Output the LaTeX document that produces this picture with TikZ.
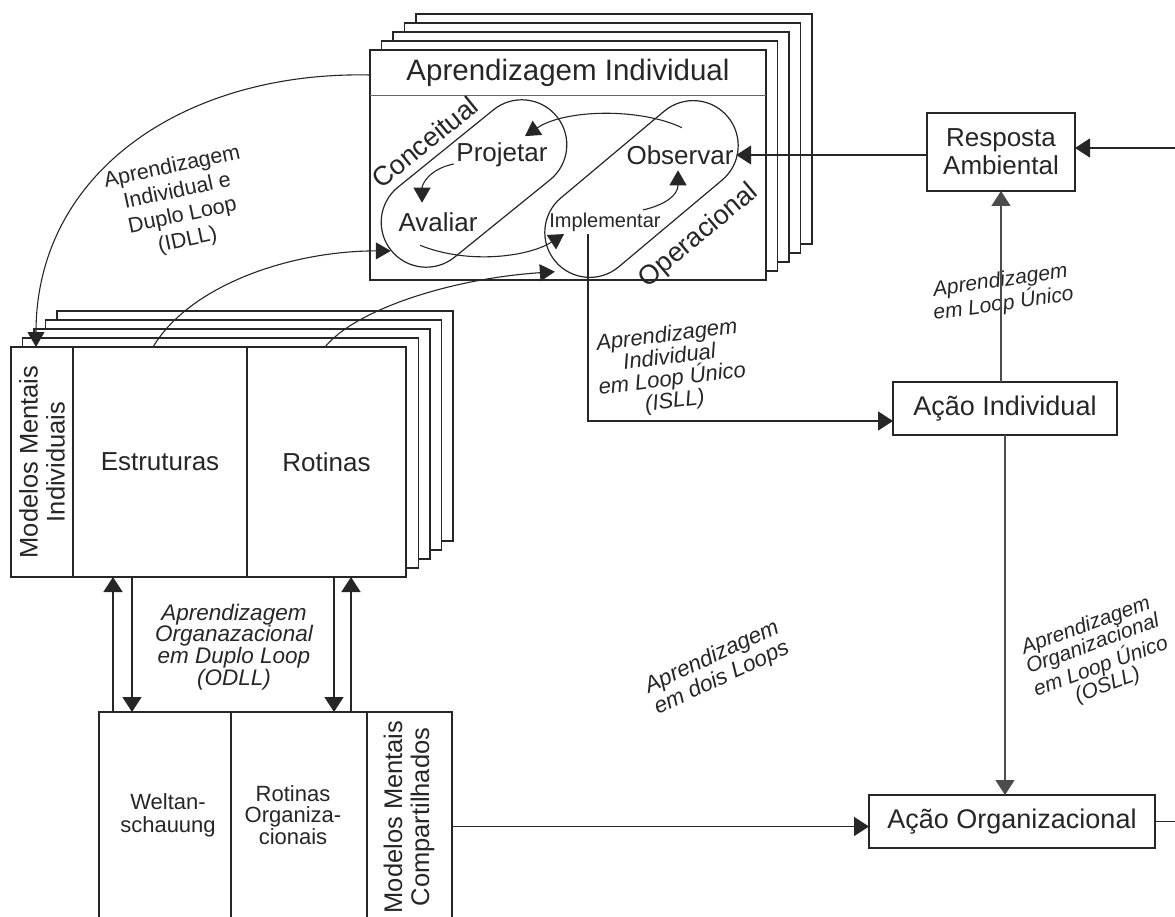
\documentclass[tikz,border=0pt]{standalone}
\usepackage{fontspec}
\setmainfont{Liberation Sans}
\usetikzlibrary{arrows.meta, positioning}

\newcommand{\fntsz}[2]{\fontsize{#1}{#2}\selectfont}

\begin{document}
\begin{tikzpicture}[x=1pt, y=-1pt, line width=1.5pt, color=black!85,
		>={Triangle[length=15pt,width=19pt]},
		box/.style={draw, fill=white, inner sep=0pt, outer sep=0pt, anchor=north west, minimum height=230pt},
		layer/.style={box, minimum width=396pt},
		txt/.style={align=center, inner sep=2pt},
		lbl/.style={align=center, inner sep=1pt, font=\fntsz{22.5}{21.7}\itshape},
		loopline/.style={line width=1.1pt, ->, >={Triangle[length=15pt,width=17pt]}}]

		\clip (0,0) rectangle (1175,917);
		\coordinate (east_edge) at (1175,0);

		%% Nodes
		% Individual learning stack
		\begin{scope}
			\foreach \k in {4,3,2,1}
				\node[layer] (ai_layer\k) at ({370+11.5*\k},{50-9*\k}) {};
			\node[layer] (ai_front) at (370,50) {};
			\draw[line width=1pt, black!60] ([yshift=-46pt]ai_front.north west) -- ([yshift=-46pt]ai_front.north east);
			\node[txt, font=\fntsz{29.5}{29.5}] (ai_title) at ([yshift=-23pt]ai_front.north) {Aprendizagem Individual};

			\node[draw, line width=1.2pt, rounded corners=45pt, minimum width=213pt, minimum height=90pt, rotate=39] (conc) at (474,183.5) {};
			\node[draw, line width=1.2pt, rounded corners=45pt, minimum width=225pt, minimum height=90pt, rotate=40] (oper) at (641.5,189) {};
			\node[txt, font=\fntsz{27}{27}, rotate=39] (conc_lbl) at (425,142) {Conceitual};
			\node[txt, font=\fntsz{27}{27}, rotate=40] (oper_lbl) at (699,236) {Operacional};

			\node[txt, font=\fntsz{26}{26}] (projetar) at (502,155) {Projetar};
			\node[txt, font=\fntsz{26}{26}] (observar) at (680,155) {Observar};
			\node[txt, font=\fntsz{26}{26}] (avaliar) at (438,222) {Avaliar};
			\node[txt, font=\fntsz{20}{20}] (implementar) at (605,222) {Implementar};
		\end{scope}

		% Individual mental models stack
		\begin{scope}
			\foreach \k in {4,3,2,1}
				\node[layer] (mm_layer\k) at ({11+11.5*\k},{347-9*\k}) {};
			\node[box, minimum width=62pt] (mmi) at (11,347) {};
			\node[box, minimum width=174pt, font=\fntsz{26}{26}] (estr) at (mmi.north east) {Estruturas};
			\node[box, minimum width=159pt, font=\fntsz{26}{26}] (rot) at (estr.north east) {Rotinas};
			\node[txt, rotate=90, font=\fntsz{25.5}{27}] (mmi_txt) at (mmi.center) {Modelos Mentais\\Individuais};
		\end{scope}

		% Shared mental models
		\begin{scope}
			\node[box, minimum width=132pt, minimum height=250pt] (welt) at (99,712) {};
			\node[box, minimum width=136pt, minimum height=250pt] (rotorg) at (welt.north east) {};
			\node[box, minimum width=85pt, minimum height=250pt] (compart) at (rotorg.north east) {};
			\node[txt, font=\fntsz{22}{23}] (welt_txt) at (168,815) {Weltan-\\schauung};
			\node[txt, font=\fntsz{22}{21.7}] (rotorg_txt) at (293,815) {Rotinas\\Organiza-\\cionais};
			\node[txt, rotate=90, font=\fntsz{25.5}{27}] (compart_txt) at (409,817) {Modelos Mentais\\Compartilhados};
		\end{scope}

		% Actions
		\begin{scope}
			\node[draw, txt, fill=white, outer sep=0pt, font=\fntsz{26}{28}, minimum width=148pt, minimum height=78pt] (resposta) at (1001,152) {Resposta\\Ambiental};
			\node[draw, txt, outer sep=0pt, font=\fntsz{27}{27}, minimum width=224pt, minimum height=53pt] (acao_ind) at (1005,408.5) {Ação Individual};
			\node[draw, txt, outer sep=0pt, font=\fntsz{27}{27}, minimum width=286pt, minimum height=53pt] (acao_org) at (1012,821.5) {Ação Organizacional};
		\end{scope}

		% Labels
		\node[lbl, font=\fntsz{21.5}{25}, rotate=12] (idll) at (180,204) {Aprendizagem\\Individual e\\Duplo Loop\\(IDLL)};
		\node[lbl] (odll) at (234,647) {Aprendizagem\\Organazacional\\em Duplo Loop\\(ODLL)};
		\node[lbl, font=\fntsz{22}{22}\itshape, rotate=7] (isll) at (671,369) {Aprendizagem\\Individual\\em Loop Único\\(ISLL)};
		\node[lbl, font=\fntsz{21}{20}\itshape, rotate=8] (slu) at (1002,293) {Aprendizagem\\em Loop Único};
		\node[lbl, font=\fntsz{22.5}{23}\itshape, rotate=25] (dois) at (717,668) {Aprendizagem\\em dois Loops};
		\node[lbl, font=\fntsz{21}{20}\itshape, rotate=20] (osll) at (1097,656) {Aprendizagem\\Organizacional\\em Loop Único\\(OSLL)};

		%% Edges
		% inner loops
		\draw[loopline] ([xshift=2pt,yshift=15pt]observar.north) .. controls +(-42,-20) and +(40,-27) .. ([xshift=23pt,yshift=4pt]projetar.north);
		\draw[loopline] ([yshift=-9pt]projetar.west) .. controls +(-25,5) and +(0,-18) .. ([xshift=-16pt,yshift=7pt]avaliar.north);
		\draw[loopline] ([xshift=-18pt,yshift=-11pt]avaliar.south) .. controls +(50,20) and +(-34,22) .. ([xshift=-41pt]implementar.south);
		\draw[loopline] ([xshift=38pt]implementar.north) .. controls +(22,-5) and +(0,25) .. ([xshift=-2pt,yshift=-3pt]observar.south);

		% between the stacks
		\draw[loopline] ([yshift=-25pt]ai_front.north west) .. controls +(-185,-4) and +(0,-175) .. ([xshift=25pt]mmi.north west);
		\draw[loopline] ([xshift=-7pt]estr.north) .. controls +(37,-62) and +(-100,0) .. (conc.west);
		\draw[loopline] ([xshift=-1.5pt]rot.north) .. controls +(30,-37) and +(-105,7) .. ([yshift=-10pt]oper.west);

		\coordinate (odl_up) at ([xshift=14pt]welt.north west);
		\coordinate (odl_dn) at ([xshift=33pt]welt.north west);
		\coordinate (odr_dn) at ([xshift=103pt]rotorg.north west);
		\coordinate (odr_up) at ([xshift=120pt]rotorg.north west);
		\draw[->] (odl_up) -- (odl_up |- estr.south);
		\draw[->] (odl_dn |- estr.south) -- (odl_dn);
		\draw[->] (odr_dn |- rot.south) -- (odr_dn);
		\draw[->] (odr_up) -- (odr_up |- rot.south);

		% actions
		\coordinate (resp_in) at ([yshift=4pt]resposta.east);
		\coordinate (isll_in) at ([yshift=-12.5pt]acao_ind.west);
		\coordinate (org_in) at ([yshift=-5pt]acao_org.west);
		\draw[->] (resp_in -| east_edge) -- (resp_in);
		\draw[->] (resposta.west |- observar.east) -- (observar.east);
		\draw[->, black!70] (acao_ind.north -| resposta.south) -- (resposta.south);
		\draw[->, black!70] (acao_ind.south) -- (acao_ind.south |- acao_org.north);
		\draw[->] ([xshift=-17pt]implementar.south) |- (isll_in);
		\draw[->] (compart.east |- org_in) -- (org_in);
		\draw (acao_org.east) -- (acao_org.east -| east_edge);
	\end{tikzpicture}
\end{document}
